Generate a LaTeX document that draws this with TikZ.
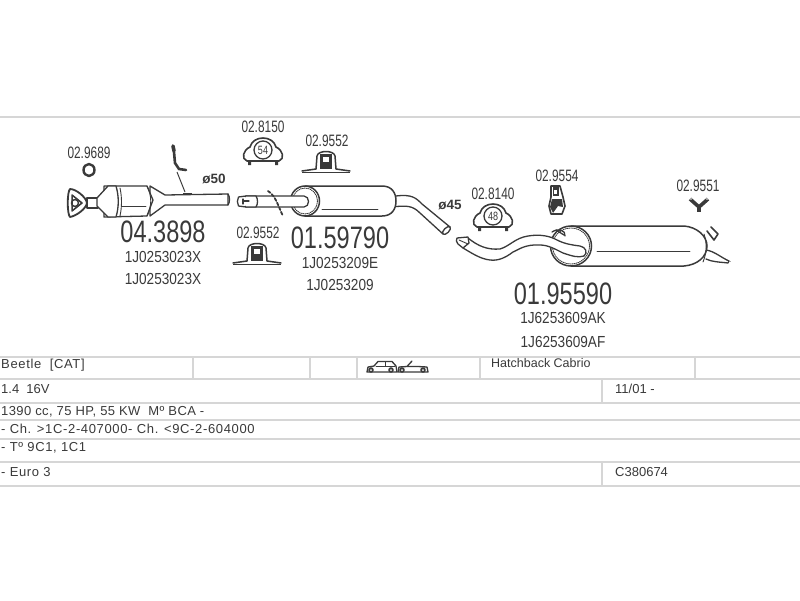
\documentclass[tikz,border=0pt]{standalone}
\usepackage{fontspec}
\setmainfont{Liberation Sans}
\definecolor{ink}{HTML}{3A3A3A}
\definecolor{rule}{HTML}{D6D6D6}
\tikzset{
  big/.style={inner sep=0,text=ink,transform shape,xscale=.76,font=\fontsize{31}{31}\selectfont},
  ref/.style={inner sep=0,text=ink,transform shape,xscale=.72,font=\fontsize{16.5}{16.5}\selectfont},
  oem/.style={inner sep=0,text=ink,transform shape,xscale=.85,font=\fontsize{16}{16}\selectfont},
  dia/.style={inner sep=0,text=ink,font=\fontsize{13.5}{13.5}\selectfont\bfseries},
  cell/.style={inner sep=0,anchor=west,text=ink,font=\fontsize{13}{13}\selectfont},
  rulel/.style={draw=rule,line width=1.6pt},
  part/.style={draw=ink,line width=1.3pt,line join=round,line cap=round},
  thin part/.style={draw=ink,line width=.9pt,line join=round,line cap=round},
  clamp/.pic={
    \draw[part,fill=white,line width=1.6pt] (-16,11) .. controls (-22,9) and (-20,0) .. (-13,-3)
      .. controls (-10,-15) and (10,-15) .. (13,-3) .. controls (20,0) and (22,9) .. (16,11) -- cycle;
    \fill[ink] (-15,10) rectangle (-12,15) (12,10) rectangle (15,15);
    \draw[part,fill=white] (0,0) circle[radius=9];
    \node[inner sep=0,text=ink,transform shape,xscale=.75,font=\fontsize{12}{12}\selectfont] at (0,0) {#1};
  },
  bracket/.pic={
    \draw[part,line width=1.5pt] (-24,10) -- (-10,8) -- (-9,-5) .. controls (-8,-11) and (8,-11) .. (9,-5) -- (10,8) -- (24,10);
    \fill[ink] (-6,-7) rectangle (6,8);
    \fill[white] (-3,-4) rectangle (3,1);
    \draw[ink,line width=.8pt] (-24,11) -- (24,11);
  }
}
\begin{document}
\begin{tikzpicture}[x=1pt,y=-1pt]
\useasboundingbox (0,0) rectangle (800,600);
\fill[white] (0,0) rectangle (800,600);

% frame rules
\draw[rulel] (0,117) -- (800,117);
\foreach \yy in {357,379,403,420,439,462,486} \draw[rulel] (0,\yy) -- (800,\yy);
\foreach \xx in {193,310,357,480,695} \draw[rulel] (\xx,357) -- (\xx,379);
\draw[rulel] (602,379) -- (602,403);
\draw[rulel] (602,462) -- (602,486);

% flange and catalytic converter
\draw[part,fill=white] (87,198) -- (98,198) -- (98,208) -- (87,208) -- cycle;
\draw[part,fill=white,line width=1.8pt] (70,189) .. controls (76,189) and (86,197) .. (87,203)
  .. controls (86,209) and (76,216) .. (70,217) .. controls (67,214) and (67,192) .. (70,189) -- cycle;
\draw[part,line width=1.5pt] (72,195) -- (82,203) -- (72,211) -- cycle;
\draw[part,line width=1.5pt] (75,203) circle[radius=3.5];
\draw[part,fill=white] (150,186) -- (165,195) -- (228,194) -- (228,205) -- (165,205) -- (150,216) -- cycle;
\draw[part,fill=white] (104,186) -- (147,186) -- (153,200) -- (147,216) -- (104,217) -- cycle;
\draw[part,fill=white] (108,186) -- (97,198) -- (97,206) -- (108,217) -- (116,217) .. controls (119,207) and (119,196) .. (116,186) -- cycle;
\draw[thin part] (120,188) .. controls (122,197) and (122,207) .. (120,216);
\draw[thin part] (147,186) .. controls (152,196) and (152,206) .. (147,216);
\draw[part,line width=.8pt] (122,206) -- (146,206);
\draw[part] (228,194) .. controls (230,197) and (230,202) .. (228,205);

% lambda sensor
\draw[ink,line width=3.6pt,line cap=round] (173,146) -- (174,151);
\draw[ink,line width=2.6pt,line cap=round] (174,152) -- (175,163) -- (179,169) -- (186,170);
\draw[ink,line width=1pt] (177,172) -- (185,192);
\fill[ink] (183,193) rectangle (192,195);
\node[ref] (t9689) at (89,153) {02.9689};
\draw[part,line width=2.4pt] (89,170) ellipse[x radius=5.5,y radius=6];
\node[dia] (d50) at (214,179) {ø50};
\node[big] (t43898) at (163,232) {04.3898};
\node[oem] (t1a) at (163,257) {1J0253023X};
\node[oem] (t1b) at (163,279) {1J0253023X};

% centre muffler
\draw[part,fill=white] (396,196) .. controls (412,194) and (416,198) .. (422,204) -- (450,227)
  -- (443,234) -- (420,213) .. controls (412,205) and (406,206) .. (396,206.5);
\draw[part,fill=white] (446.5,230.5) ellipse[x radius=5,y radius=2.5,rotate=45];
\draw[part,fill=white,line width=1.5pt] (305,186) -- (382,186) .. controls (392,186) and (396,193) .. (396,201)
  .. controls (396,209) and (392,216) .. (382,216) -- (305,216) -- cycle;
\draw[part,fill=white,line width=1.5pt] (305,201) ellipse[x radius=14.5,y radius=15];
\draw[thin part,densely dotted] (305,201) ellipse[x radius=12.5,y radius=13];
\draw[part,fill=white] (246,196) -- (304,196) .. controls (310,196) and (310,207) .. (304,207) -- (246,207);
\draw[part,fill=white] (238.5,197) -- (246,196) .. controls (248,199) and (248,204) .. (246,207) -- (238.5,206) .. controls (237,203) and (237,200) .. (238.5,197) -- cycle;
\draw[part,fill=white] (246,196) -- (256,196) .. controls (258,199) and (258,204) .. (256,207) -- (246,207);
\draw[part] (243,199) -- (243,204) (243,201) -- (249,201);
\draw[part,line width=.8pt] (322,209) -- (378,209);
\draw[part,line width=1.8pt,densely dashed] (268,191) .. controls (276,196) and (278,206) .. (283,216);
\node[dia] (d45) at (450,205) {ø45};
\node[big] (t59790) at (340,238) {01.59790};
\node[oem] (t2a) at (340,263) {1J0253209E};
\node[oem] (t2b) at (340,285) {1J0253209};

% clamps and brackets
\node[ref] (t8150) at (263,127) {02.8150};
\pic at (263,150) {clamp=54};
\node[ref] (t9552a) at (327,141) {02.9552};
\pic at (326,161) {bracket};
\node[ref] (t9552b) at (258,233) {02.9552};
\pic at (257,253) {bracket};
\node[ref] (t8140) at (493,194) {02.8140};
\pic at (493,216) {clamp=48};

% hanger
\node[ref] (t9554) at (557,176) {02.9554};
\draw[part,line width=1.6pt,fill=white] (551,186) -- (560,186) -- (563,197) -- (565,206) -- (562,214) -- (551,214) -- (549,206) -- (551,197) -- cycle;
\fill[ink] (553,187) rectangle (559,196);
\fill[ink] (552,199) -- (562,199) -- (563,207) -- (558,206) -- (553,213) -- (550,207) -- cycle;
\fill[white] (554,190) rectangle (557,194);
% Y rubber
\node[ref] (t9551) at (698,186) {02.9551};
\draw[ink,line width=3.6pt,line join=round] (690,199) -- (699,207) -- (708,199);
\draw[ink,line width=4pt] (699,205) -- (699,212);
\fill[white] (691,199) circle[radius=.8] (707,199) circle[radius=.8];

% rear muffler
\draw[part,fill=white] (706,250) .. controls (714,251) and (722,258) .. (729,261) -- (728,263) .. controls (720,262) and (712,262) .. (706,259);
\draw[ink,line width=.6pt,densely dotted] (727,260) -- (731,262);
\draw[part,line width=1.6pt] (707,231) -- (714,240) -- (718,234) -- (711,227);
\draw[part,fill=white,line width=1.5pt] (571,226) -- (684,226) .. controls (697,227) and (707,236) .. (707,246)
  .. controls (707,257) and (697,265) .. (684,266) -- (571,266) -- cycle;
\draw[part,fill=white,line width=1.5pt] (571,246) ellipse[x radius=20.5,y radius=20];
\draw[thin part,densely dotted] (571,246) ellipse[x radius=18.5,y radius=18];
\draw[thin part] (704,234) .. controls (707,243) and (707,252) .. (703,262);
\draw[part,line width=.8pt] (597,251) -- (690,251);
\draw[part,fill=white] (468,238) .. controls (478,246) and (487,250) .. (500,249)
  .. controls (510,246) and (515,238) .. (528,236) .. controls (540,234) and (550,236) .. (557,240)
  .. controls (565,244) and (572,245) .. (580,246) .. controls (586,247) and (588,253) .. (584,256)
  .. controls (578,258) and (572,256) .. (563,253) .. controls (555,249) and (548,245) .. (540,245)
  .. controls (525,244) and (518,250) .. (513,252) .. controls (505,258) and (498,261) .. (490,260)
  .. controls (480,259) and (470,252) .. (463,248) -- cycle;
\draw[part,fill=white] (457,238) -- (468,237) -- (469,243) -- (463,248) -- (458,244) .. controls (456,242) and (456,240) .. (457,238) -- cycle;
\draw[thin part] (459,240) -- (468,244);
\draw[part] (556,230) -- (564,235);
\draw[part] (552,232) .. controls (558,228) and (566,230) .. (565,236);
\node[big] (t95590) at (563,294) {01.95590};
\node[oem] (t3a) at (563,318) {1J6253609AK};
\node[oem] (t3b) at (563,342) {1J6253609AF};

% table text
\node[cell] (c1) at (1,365) {\addfontfeature{LetterSpace=5}Beetle\ \ [CAT]};
\node[cell,font=\fontsize{12.5}{12.5}\selectfont] (c2) at (491,363.5) {Hatchback Cabrio};
\node[cell] (c3) at (1,389) {1.4 \ 16V};
\node[cell] (c4) at (615,389) {11/01 -};
\node[cell] (c5) at (1,412) {\addfontfeature{LetterSpace=3}1390 cc, 75 HP, 55 KW\ \ Mº BCA -};
\node[cell] (c6) at (1,429) {\addfontfeature{LetterSpace=5}- Ch. >1C-2-407000- Ch. <9C-2-604000};
\node[cell] (c7) at (1,448) {\addfontfeature{LetterSpace=5}- Tº 9C1, 1C1};
\node[cell] (c8) at (1,472) {\addfontfeature{LetterSpace=5}- Euro 3};
\node[cell] (c9) at (615,472) {C380674};

% car icons
\draw[part,fill=white] (367,372) -- (368,367) -- (374,366) -- (378,361.5) -- (392,361.5) -- (396,366) -- (397,372) -- cycle;
\draw[thin part] (376,366) -- (395,366) (385,362) -- (385,366);
\fill[ink] (371,370) circle[radius=2.8] (391,370) circle[radius=2.8];
\fill[white] (371,370) circle[radius=1] (391,370) circle[radius=1];
\draw[part,fill=white] (398,372) -- (399,367) -- (407,366.5) -- (418,366.5) -- (427,367) -- (428,372) -- cycle;
\draw[part] (407,366.5) -- (412,361);
\fill[ink] (402,370) circle[radius=2.8] (423,370) circle[radius=2.8];
\fill[white] (402,370) circle[radius=1] (423,370) circle[radius=1];
\end{tikzpicture}
\end{document}
